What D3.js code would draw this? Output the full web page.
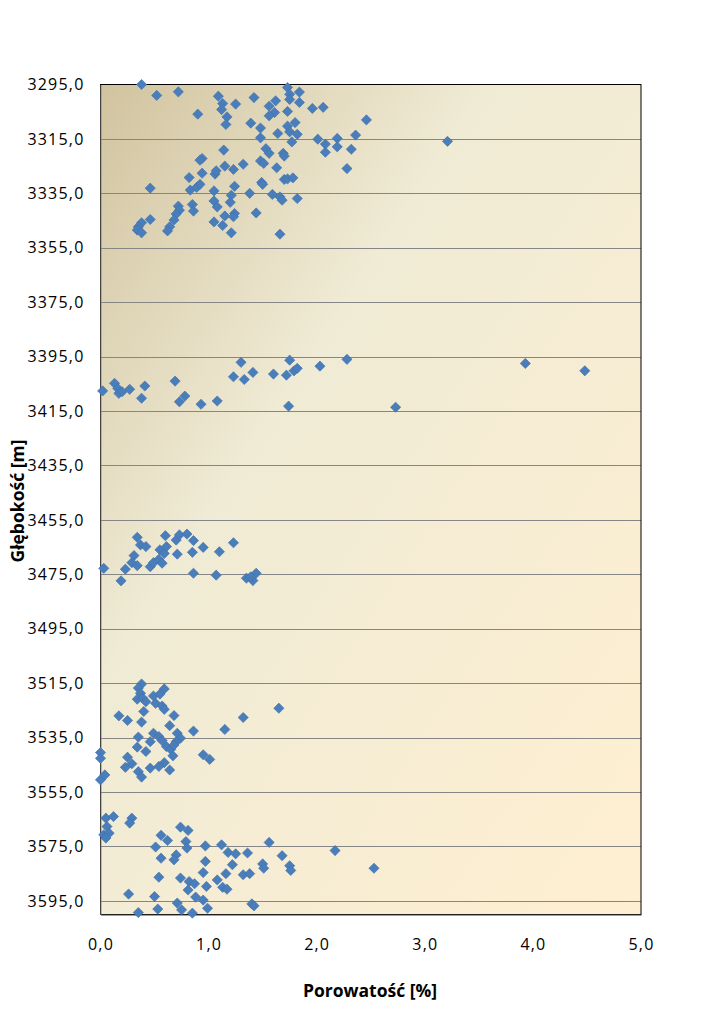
<!DOCTYPE html>
<html><head><meta charset="utf-8">
<script src="https://cdn.jsdelivr.net/npm/d3@7"></script>
<style>
html,body{margin:0;padding:0;background:#fff;}
text{font-family:"Open Sans","Liberation Sans",sans-serif;fill:#000;}
</style></head>
<body>
<svg id="c" width="715" height="1011"></svg>
<script>
// Porosity [%] and depth [m] pairs
const porosity = [
 0.38,0.52,0.72,1.09,1.13,1.12,1.25,1.42,0.90,1.17,1.16,1.39,1.48,1.48,1.56,1.62,1.61,1.56,1.73,1.75,
 1.75,1.84,1.84,1.73,1.96,2.06,2.46,1.80,1.73,1.75,1.82,1.64,1.77,2.01,2.08,2.19,2.19,2.08,2.32,2.36,
 2.28,3.21,1.14,0.94,0.92,1.53,1.56,1.69,1.70,1.48,1.51,1.32,1.15,1.23,1.63,0.82,0.94,1.06,1.07,1.70,
 1.73,1.78,1.49,1.50,0.46,0.83,0.89,0.92,1.05,1.24,1.38,1.59,1.66,1.68,1.82,1.05,1.21,1.20,1.08,0.72,
 0.85,0.86,0.73,0.70,1.44,0.46,0.68,0.64,0.62,0.38,0.35,0.34,0.38,1.05,1.13,1.15,1.24,1.23,1.21,1.66,
 // 3395-3415
 0.02,0.13,0.16,0.17,0.20,0.27,0.41,0.38,0.69,0.73,0.78,0.93,1.08,1.30,1.23,1.33,1.41,1.60,1.72,1.75,
 1.79,1.82,1.74,2.03,2.28,2.73,3.93,4.48,
 // 3460-3478
 0.03,0.19,0.23,0.34,0.37,0.42,0.31,0.29,0.34,0.46,0.49,0.54,0.57,0.55,0.59,0.61,0.60,0.70,0.73,0.80,
 0.86,0.71,0.85,0.95,1.10,1.23,0.86,1.07,1.35,1.41,1.44,1.39,
 // 3515-3551
 0.38,0.35,0.37,0.34,0.39,0.42,0.49,0.59,0.55,0.51,0.57,0.59,0.40,0.17,0.25,0.38,0.68,0.64,0.86,1.15,
 1.32,1.65,0.35,0.49,0.46,0.34,0.42,0.54,0.57,0.61,0.65,0.71,0.74,0.70,0.68,0.00,0.00,0.25,0.29,0.23,
 0.35,0.38,0.46,0.54,0.59,0.67,0.64,0.95,1.01,0.00,0.04,
 // 3564-3600
 0.05,0.12,0.06,0.03,0.08,0.05,0.29,0.27,0.74,0.81,0.56,0.62,0.79,0.80,0.51,0.97,1.12,1.18,1.25,1.36,
 1.56,0.56,0.70,0.68,0.97,1.22,1.68,1.50,1.51,1.75,1.76,0.54,0.95,0.74,0.82,0.87,0.98,1.08,1.13,1.17,
 1.16,1.32,1.38,0.81,0.88,0.95,0.26,0.50,0.71,0.99,1.40,1.42,0.35,0.53,0.75,0.85,2.17,2.53
];
const depth = [
 3295.0,3299.0,3297.7,3299.3,3302.0,3304.2,3302.2,3299.8,3305.9,3306.9,3309.7,3309.2,3311.0,3314.6,3303.0,3301.0,3305.3,3306.5,3296.1,3298.6,
 3300.5,3297.8,3301.6,3304.9,3303.8,3303.4,3308.0,3309.0,3310.3,3312.4,3313.3,3313.0,3316.1,3315.1,3316.9,3314.8,3317.9,3319.9,3318.8,3313.6,
 3325.9,3315.9,3319.1,3322.2,3322.8,3318.6,3320.3,3320.3,3321.3,3323.1,3324.0,3324.3,3325.0,3326.2,3325.6,3329.2,3327.6,3327.9,3326.7,3329.9,
 3329.7,3329.3,3331.0,3331.7,3333.1,3333.8,3332.8,3331.7,3334.1,3332.4,3335.0,3335.4,3336.3,3337.5,3336.9,3337.8,3335.7,3338.3,3340.0,3339.7,
 3339.1,3341.5,3341.2,3342.6,3342.2,3344.6,3344.8,3347.3,3348.8,3345.8,3347.3,3348.5,3349.5,3345.5,3346.8,3343.3,3342.4,3343.6,3349.5,3350.0,
 3407.6,3404.8,3406.7,3408.5,3407.9,3407.0,3405.8,3410.3,3404.0,3411.6,3409.5,3412.5,3411.3,3397.1,3402.4,3403.4,3400.8,3401.4,3401.8,3396.3,
 3400.2,3399.3,3413.2,3398.5,3396.0,3413.6,3397.5,3400.2,
 3472.8,3477.4,3473.1,3461.4,3464.2,3464.8,3468.1,3470.7,3471.8,3472.2,3470.7,3469.5,3470.9,3466.0,3467.3,3464.8,3460.8,3462.4,3460.5,3460.2,
 3462.6,3467.6,3466.9,3465.1,3466.7,3463.4,3474.6,3475.3,3476.4,3477.3,3474.6,3475.9,
 3515.3,3516.8,3518.7,3520.9,3520.5,3521.8,3519.7,3517.1,3519.0,3522.4,3523.4,3524.6,3525.4,3527.0,3528.7,3529.3,3526.9,3530.6,3532.6,3532.0,
 3527.6,3524.2,3534.8,3533.4,3536.5,3538.5,3540.1,3534.6,3536.1,3538.3,3539.3,3533.4,3535.2,3536.5,3537.7,3540.5,3542.6,3542.2,3544.6,3545.9,
 3547.5,3549.5,3546.2,3545.6,3544.2,3541.7,3546.9,3541.3,3543.0,3550.5,3548.7,
 3564.6,3564.0,3567.7,3570.7,3570.1,3571.9,3564.6,3566.4,3567.9,3569.1,3570.9,3572.8,3573.2,3575.6,3575.2,3574.8,3574.4,3577.2,3577.7,3577.4,
 3573.5,3579.3,3578.1,3579.9,3580.5,3581.7,3578.4,3581.4,3583.0,3582.1,3583.8,3586.3,3584.6,3586.6,3587.9,3588.7,3589.7,3587.3,3590.0,3590.7,
 3585.0,3585.4,3585.0,3591.0,3593.6,3594.7,3592.5,3593.4,3595.8,3597.7,3596.1,3596.8,3599.3,3598.0,3598.3,3599.5,3576.5,3583.0
];
const xTicks = [0, 1, 2, 3, 4, 5];
const yTicks = [3295, 3315, 3335, 3355, 3375, 3395, 3415, 3435, 3455, 3475, 3495, 3515, 3535, 3555, 3575, 3595];
const xDomain = [0, 5];
const yDomain = [3295, 3600];
const xTitle = "Porowatość [%]";
const yTitle = "Głębokość [m]";

const svg = d3.select("#c");
const L = 100.5, R = 641, T = 84.5, B = 914.5;
const x = d3.scaleLinear().domain(xDomain).range([L, R]);
const y = d3.scaleLinear().domain(yDomain).range([T, B]);
const fmt = v => d3.format(".1f")(v).replace(".", ",");

const defs = svg.append("defs");
const g = defs.append("linearGradient").attr("id", "parch")
  .attr("x1", "1").attr("y1", "1").attr("x2", "0").attr("y2", "0");
g.append("stop").attr("offset", "0").attr("stop-color", "#FFEFD1");
g.append("stop").attr("offset", "0.64").attr("stop-color", "#F0EBD5");
g.append("stop").attr("offset", "1").attr("stop-color", "#D1C39F");

svg.append("rect").attr("x", L).attr("y", T).attr("width", R - L).attr("height", B - T)
  .attr("fill", "url(#parch)");

// gridlines
svg.append("g").selectAll("line").data(yTicks.slice(1)).join("line")
  .attr("x1", L).attr("x2", R)
  .attr("y1", d => Math.round(y(d)) + 0.5).attr("y2", d => Math.round(y(d)) + 0.5)
  .attr("stroke", "#868686").attr("stroke-width", 1);

// border
svg.append("rect").attr("x", L).attr("y", T).attr("width", R - L).attr("height", B - T)
  .attr("fill", "none").attr("stroke", "#000").attr("stroke-width", 1);

// y axis
const yAxis = d3.axisLeft(y).tickValues(yTicks).tickFormat(fmt).tickSize(0).tickPadding(16);
const ya = svg.append("g").attr("transform", `translate(${L},0)`).call(yAxis);
ya.select(".domain").attr("stroke", "#868686");
ya.selectAll("text").style("font-size", "16px").style("letter-spacing", "1.2px")
  .style("font-family", '"Open Sans", sans-serif').attr("fill", "#000");

// x axis
const xAxis = d3.axisBottom(x).tickValues(xTicks).tickFormat(fmt).tickSize(0).tickPadding(24);
const xa = svg.append("g").attr("transform", `translate(0,${B})`).call(xAxis);
xa.select(".domain").attr("stroke", "#404040");
xa.selectAll("text").style("font-size", "16px").style("letter-spacing", "1.2px")
  .style("font-family", '"Open Sans", sans-serif').attr("fill", "#000");

// points
const pts = porosity.map((p, i) => ({ p, d: depth[i] }));
const sym = d3.symbol().type(d3.symbolSquare).size(52);
svg.append("g").selectAll("path").data(pts).join("path")
  .attr("d", sym)
  .attr("transform", d => `translate(${x(d.p)},${y(d.d)}) rotate(45)`)
  .attr("fill", "#4A7EBB").attr("stroke", "#3F70AD").attr("stroke-width", 0.6);

// titles
svg.append("text").attr("x", 370).attr("y", 997).attr("text-anchor", "middle")
  .style("font-size", "17.5px").style("font-weight", "bold").text(xTitle);
svg.append("text").attr("transform", "translate(24,501) rotate(-90)").attr("text-anchor", "middle")
  .style("font-size", "17.5px").style("font-weight", "bold").text(yTitle);
</script>
</body></html>
